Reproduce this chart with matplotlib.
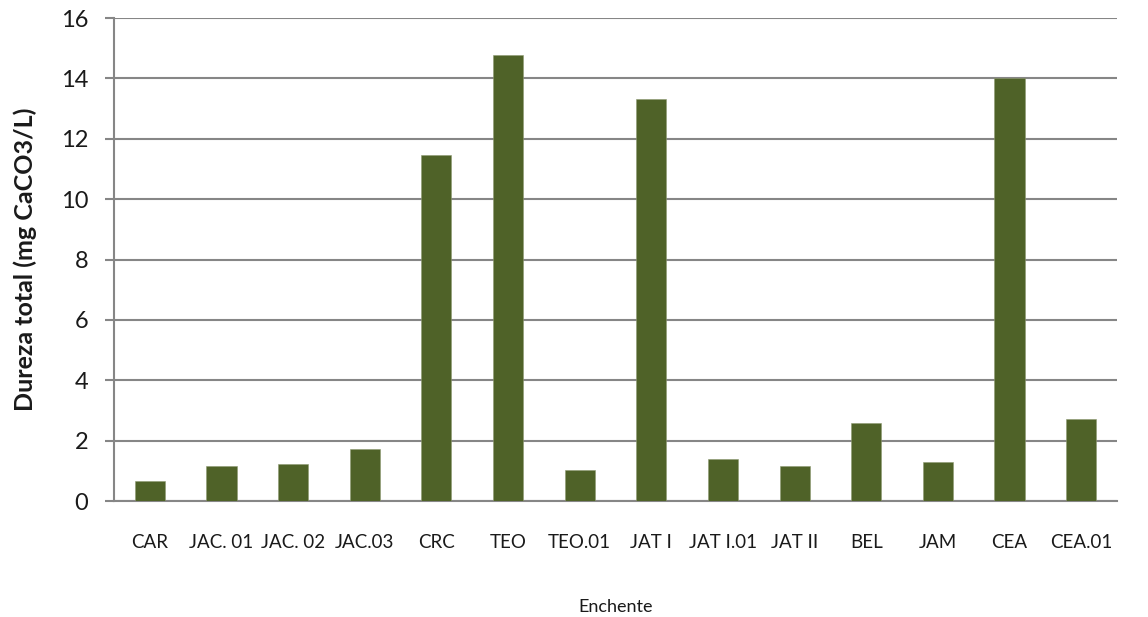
import matplotlib
matplotlib.use("Agg")
import matplotlib.pyplot as plt
import numpy as np

# Sampling sites and total hardness (mg CaCO3/L) during the flood season
sites = ["CAR", "JAC. 01", "JAC. 02", "JAC.03", "CRC", "TEO", "TEO.01",
         "JAT I", "JAT I.01", "JAT II", "BEL", "JAM", "CEA", "CEA.01"]
hardness = [0.66, 1.16, 1.23, 1.73, 11.46, 14.76, 1.02,
            13.32, 1.38, 1.16, 2.59, 1.30, 14.02, 2.73]
y_ticks = [0, 2, 4, 6, 8, 10, 12, 14, 16]

bar_color = "#4F6228"
grid_color = "#868686"
text_color = "#1a1a1a"

plt.rcParams["font.family"] = ["Lato", "DejaVu Sans"]

fig = plt.figure(figsize=(11.48, 6.17), dpi=100)
ax = fig.add_axes([0.0993, 0.188, 0.8737, 0.7828])

x = np.arange(len(sites))
ax.bar(x, hardness, width=0.42, color=bar_color, edgecolor="#8E9A72",
       linewidth=0.4, zorder=3)

ax.set_xlim(-0.5, len(sites) - 0.5)
ax.set_ylim(0, 16)
ax.set_yticks(y_ticks)
ax.set_yticklabels([str(t) for t in y_ticks], fontsize=17, color=text_color)
ax.set_xticks(x)
ax.set_xticklabels(sites, fontsize=13.5, color=text_color)

ax.yaxis.grid(True, color=grid_color, linewidth=1.5, zorder=0)
ax.set_axisbelow(True)

for side in ("top", "right"):
    ax.spines[side].set_visible(False)
for side in ("left", "bottom"):
    ax.spines[side].set_color(grid_color)
    ax.spines[side].set_linewidth(1.5)

ax.tick_params(axis="y", length=6.5, width=1.5, color=grid_color, pad=12)
ax.tick_params(axis="x", length=0, pad=24)

ax.set_ylabel("Dureza total (mg CaCO3/L)", fontsize=18, fontweight="bold",
              color=text_color, labelpad=17)
ax.set_xlabel("Enchente", fontsize=13, color=text_color, labelpad=34)

fig.savefig("out.png", dpi=100, facecolor="white")
